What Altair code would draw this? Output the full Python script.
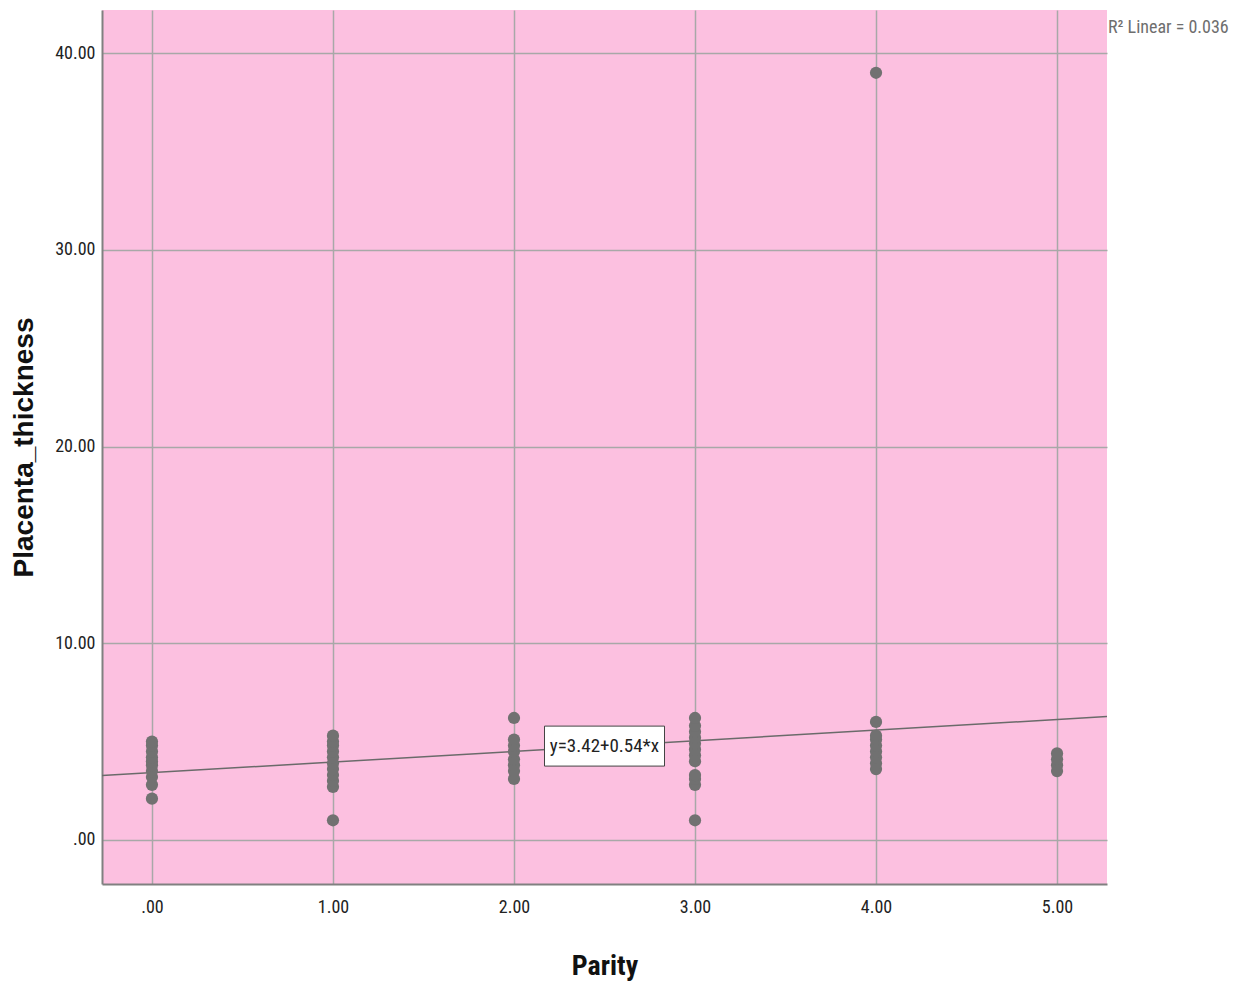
import altair as alt
import pandas as pd

# Data
parity_0 = [2.1, 2.8, 3.2, 3.5, 3.8, 4.0, 4.2, 4.5, 4.8, 5.0]
parity_1 = [1.0, 2.7, 3.0, 3.3, 3.6, 3.9, 4.2, 4.5, 4.8, 5.0, 5.3]
parity_2 = [3.1, 3.5, 3.8, 4.1, 4.5, 4.8, 5.1, 6.2]
parity_3 = [1.0, 2.8, 3.1, 3.3, 4.0, 4.3, 4.6, 4.9, 5.2, 5.5, 5.8, 6.2]
parity_4 = [3.6, 3.9, 4.2, 4.5, 4.8, 5.1, 5.3, 6.0, 39.0]
parity_5 = [3.5, 3.8, 4.1, 4.4]

intercept = 3.42
slope = 0.54
r2_text = "R² Linear = 0.036"
eq_text = "y=3.42+0.54*x"
eq_x = 2.5

x_domain = [-0.276, 5.276]
y_domain = [-2.24, 42.19]
x_ticks = [0, 1, 2, 3, 4, 5]
y_ticks = [0, 10, 20, 30, 40]

groups = [parity_0, parity_1, parity_2, parity_3, parity_4, parity_5]
rows = []
for p, vals in enumerate(groups):
    for v in vals:
        rows.append({"Parity": p, "Placenta_thickness": v})
df = pd.DataFrame(rows)

line_df = pd.DataFrame({
    "Parity": x_domain,
    "Placenta_thickness": [intercept + slope * x for x in x_domain],
})
eq_df = pd.DataFrame({"Parity": [eq_x], "Placenta_thickness": [intercept + slope * eq_x], "label": [eq_text]})

W, H = 1005, 874
NARROW = "Liberation Sans Narrow, Arial Narrow, Roboto Condensed, Liberation Sans, Arial, sans-serif"
label_expr = "datum.value == 0 ? '.00' : format(datum.value, '.2f')"

xscale = alt.Scale(domain=x_domain, nice=False, zero=False)
yscale = alt.Scale(domain=y_domain, nice=False, zero=False)

x_enc = alt.X("Parity:Q", scale=xscale,
              axis=alt.Axis(values=x_ticks, labelExpr=label_expr, title="Parity",
                            grid=True, gridColor="#A8A8A8", gridWidth=1.5,
                            ticks=False, domainColor="#808080", domainWidth=2,
                            labelFont=NARROW, labelFontSize=18, labelColor="#222",
                            labelPadding=14, titleFont=NARROW, titleFontSize=28,
                            titleFontWeight="bold", titleColor="#111", titlePadding=36))
y_enc = alt.Y("Placenta_thickness:Q", scale=yscale,
              axis=alt.Axis(values=y_ticks, labelExpr=label_expr, title="Placenta_thickness",
                            grid=True, gridColor="#A8A8A8", gridWidth=1.5,
                            ticks=False, domainColor="#808080", domainWidth=2,
                            labelFont=NARROW, labelFontSize=18, labelColor="#222",
                            labelPadding=7, titleFont="Liberation Sans, Arial, sans-serif",
                            titleFontSize=28, titleFontWeight="bold", titleColor="#111",
                            titlePadding=16))

points = alt.Chart(df).mark_point(filled=True, size=150, opacity=1, color="#717171").encode(
    x=x_enc, y=y_enc)

reg = alt.Chart(line_df).mark_line(color="#6a6a6a", strokeWidth=1.5, clip=True).encode(
    x=alt.X("Parity:Q", scale=xscale), y=alt.Y("Placenta_thickness:Q", scale=yscale))

box = alt.Chart(eq_df).mark_point(
    shape="M-1,-0.333L1,-0.333L1,0.333L-1,0.333Z", size=14400, filled=True,
    fill="white", stroke="#444", strokeWidth=1, opacity=1).encode(
    x=alt.X("Parity:Q", scale=xscale), y=alt.Y("Placenta_thickness:Q", scale=yscale))

eq_label = alt.Chart(eq_df).mark_text(font=NARROW, fontSize=19, color="#222",
                                      align="center", baseline="middle").encode(
    x=alt.X("Parity:Q", scale=xscale), y=alt.Y("Placenta_thickness:Q", scale=yscale),
    text="label:N")

r2 = alt.Chart(pd.DataFrame({"t": [r2_text]})).mark_text(
    font=NARROW, fontSize=18, color="#6e6e6e", align="left", baseline="middle").encode(
    x=alt.value(W + 1), y=alt.value(18), text="t:N")

chart = alt.layer(reg, points, box, eq_label, r2).properties(
    width=W, height=H,
    autosize=alt.AutoSizeParams(type="none"),
    padding={"left": 102, "top": 10, "right": 140, "bottom": 104},
    view=alt.ViewBackground(fill="#FCC0E0", strokeWidth=0),
).configure(background="white")

chart.save("out.html", embed_options={"renderer": "svg", "actions": False})
